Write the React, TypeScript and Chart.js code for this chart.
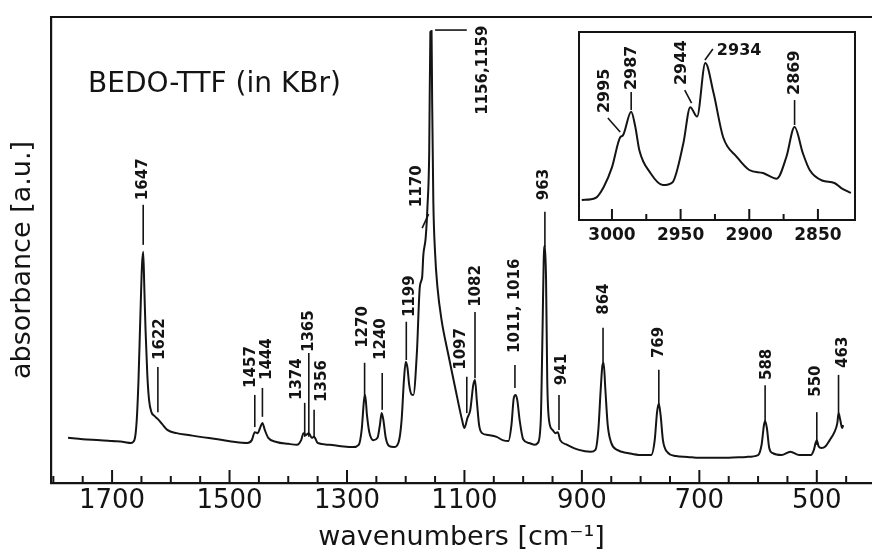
import React, { useEffect, useRef } from "react";
import { Chart, registerables } from "chart.js";

Chart.register(...registerables);

// ---------- main spectrum (wavenumber cm-1, absorbance a.u.) ----------
const mainWavenumbers = [
  1775, 1750, 1720, 1700, 1680, 1668, 1662, 1658, 1655, 1652, 1649, 1647, 1645, 1643, 1640, 1637,
  1633, 1628, 1622, 1615, 1606, 1590, 1570, 1550, 1520, 1490, 1470, 1462, 1457, 1452, 1448, 1444,
  1440, 1434, 1420, 1400, 1385, 1378, 1374, 1370, 1365, 1360, 1356, 1350, 1330, 1310, 1290, 1280,
  1275, 1271, 1269, 1266, 1262, 1255, 1248, 1244, 1241, 1238, 1234, 1228, 1220, 1212, 1207, 1203,
  1200, 1197, 1194, 1190, 1187, 1181, 1176, 1172, 1170, 1166, 1163, 1160, 1158, 1156, 1155, 1153,
  1150, 1146, 1139, 1128, 1116, 1104, 1100, 1095, 1090, 1085, 1082, 1079, 1075, 1070, 1060, 1045,
  1035, 1025, 1020, 1016, 1013, 1010, 1006, 1000, 990, 980, 975, 970, 967, 965, 963, 961,
  959, 956, 950, 945, 941, 937, 925, 905, 885, 877, 872, 868, 865, 863, 860, 856,
  850, 840, 820, 800, 782, 776, 772, 769, 766, 762, 755, 740, 720, 700, 650, 620,
  600, 594, 590, 588, 585, 581, 575, 560, 545, 530, 510, 505, 502, 500, 497, 492,
  485, 478, 470, 465, 463, 460, 457, 455,
];
const mainAbsorbance = [
  9.7, 9.4, 9.2, 9.0, 8.8, 8.6, 9.2, 13.5, 22.1, 35.0, 46.8, 49.6, 41.4, 32.8, 23.2, 17.8,
  15.2, 14.4, 13.7, 12.7, 11.4, 10.7, 10.3, 9.9, 9.4, 8.8, 8.6, 9.2, 10.9, 10.7, 11.8, 12.9,
  11.4, 9.7, 8.8, 8.4, 8.2, 9.2, 10.7, 10.3, 10.7, 9.7, 9.9, 8.6, 8.2, 7.9, 7.7, 8.2,
  11.4, 17.8, 18.9, 14.6, 10.9, 9.2, 9.7, 12.4, 15.0, 13.5, 9.7, 7.9, 7.7, 8.8, 13.5, 22.1,
  26.0, 24.7, 21.0, 19.0, 18.9, 27.9, 42.1, 44.2, 48.9, 52.6, 59.2, 70.8, 96.8, 97.0, 82.2, 60.7,
  49.4, 42.1, 35.0, 27.9, 20.6, 13.5, 11.8, 13.9, 15.7, 21.0, 22.1, 17.8, 12.4, 10.7, 10.3, 9.9,
  9.2, 9.0, 12.4, 18.2, 18.9, 17.8, 13.5, 9.4, 8.6, 8.2, 8.6, 13.5, 32.8, 47.9, 50.9, 43.6,
  22.1, 13.5, 11.4, 10.7, 10.9, 9.2, 8.2, 7.1, 6.7, 7.1, 11.4, 20.0, 25.3, 25.8, 20.0, 12.4,
  8.6, 7.1, 6.4, 6.0, 6.0, 9.2, 15.2, 17.0, 14.6, 9.2, 6.7, 5.8, 5.6, 5.4, 5.4, 5.6,
  6.0, 8.2, 12.4, 13.3, 11.8, 7.5, 6.4, 6.0, 6.7, 6.0, 6.0, 7.1, 8.6, 9.2, 7.9, 7.5,
  7.9, 9.2, 10.9, 12.9, 15.0, 13.5, 11.8, 12.4,
];
const mainTickLabels = [1700, 1500, 1300, 1100, 900, 700, 500];
const mainMinorTicks = [
  1800, 1750, 1650, 1600, 1550, 1450, 1400, 1350, 1250, 1200, 1150, 1050, 1000, 950,
  850, 800, 750, 650, 600, 550, 450,
];

// peak labels: text, text x, text bottom, leader x1, y1, x2, y2 (data units)
const mainPeakLabels: [string, number, number, number, number, number, number][] = [
  ["1647", 1648, 60.7, 1647, 59.7, 1647, 51.1],
  ["1622", 1618, 26.4, 1622, 24.9, 1622, 15.2],
  ["1457", 1463, 20.4, 1457, 18.9, 1457, 12.0],
  ["1444", 1436, 22.1, 1444, 20.4, 1444, 14.2],
  ["1374", 1385, 17.8, 1372, 17.2, 1372, 9.9],
  ["1365", 1365, 28.1, 1365, 27.9, 1365, 9.9],
  ["1356", 1343, 17.4, 1356, 15.7, 1356, 9.7],
  ["1270", 1273, 29.0, 1270, 25.8, 1270, 18.2],
  ["1240", 1242, 26.4, 1240, 23.6, 1240, 15.7],
  ["1199", 1193, 35.6, 1199, 34.6, 1199, 26.4],
  ["1170", 1181, 59.2, 1172, 54.7, 1161, 57.7],
  ["1156,1159", 1069, 79.0, 1150, 97.2, 1096, 97.2],
  ["1097", 1106, 24.3, 1096, 22.8, 1096, 15.0],
  ["1082", 1080, 37.8, 1082, 36.7, 1082, 22.5],
  ["1011, 1016", 1014, 27.9, 1014, 25.3, 1014, 20.4],
  ["963", 965, 60.7, 963, 58.2, 963, 50.6],
  ["941", 934, 21.0, 939, 18.9, 939, 11.4],
  ["864", 863, 36.1, 864, 33.3, 864, 25.8],
  ["769", 769, 26.8, 769, 24.3, 769, 16.3],
  ["588", 585, 22.1, 588, 21.0, 588, 13.1],
  ["550", 502, 18.5, 500, 15.2, 500, 8.2],
  ["463", 456, 24.7, 463, 23.2, 463, 15.0],
];

// ---------- inset (C-H stretching region) ----------
const insetWavenumbers = [
  3022, 3012, 3006, 3000, 2994, 2992, 2986, 2983, 2980, 2972, 2963, 2956, 2948, 2943, 2938,
  2932, 2926, 2919, 2909, 2900, 2890, 2880, 2873, 2867, 2861, 2856, 2847, 2838, 2833, 2826,
];
const insetAbsorbance = [
  10.6, 11.7, 17.6, 28, 44, 45, 57.6, 49.6, 37, 25, 18.6, 20, 40.8, 60, 55,
  83.5, 67.5, 44, 33.5, 26.6, 25, 22, 33.5, 49.5, 35.6, 26.6, 21, 19.7, 17, 14.4,
];
const insetTickLabels = [3000, 2950, 2900, 2850];
const insetMinorTicks = [2975, 2925, 2875];
const insetPeakLabels: [string, number, number, number, number, number, number, boolean][] = [
  ["2995", 3005, 56.9, 3003, 54.3, 2994, 46.8, false],
  ["2987", 2985.5, 69.1, 2986, 68.1, 2986, 58.5, false],
  ["2944", 2949, 71.8, 2947, 69.1, 2942, 62.2, false],
  ["2934", 2923.6, 87.8, 2932.3, 85.1, 2926.5, 91, true],
  ["2869", 2867, 66.5, 2867, 63.8, 2867, 50.5, false],
];

const chartTitle = "BEDO-TTF (in KBr)";
const xTitle = "wavenumbers [cm\u207B\u00B9]";
const yTitle = "absorbance [a.u.]";

const INK = "#141414";
const FONT = '"DejaVu Sans", sans-serif';

const mainDecor = {
  id: "mainDecor",
  afterDatasetsDraw(chart: any) {
    const { ctx, chartArea: a, scales } = chart;
    const x = scales.x;
    const y = scales.y;
    ctx.save();
    ctx.strokeStyle = INK;
    ctx.fillStyle = INK;
    ctx.lineWidth = 2.2;
    ctx.beginPath();
    ctx.moveTo(a.left - 1, a.top);
    ctx.lineTo(a.right, a.top);
    ctx.stroke();
    // inward ticks
    ctx.lineWidth = 2;
    const tickAt = (v: number, len: number) => {
      const px = x.getPixelForValue(v);
      ctx.beginPath();
      ctx.moveTo(px, a.bottom);
      ctx.lineTo(px, a.bottom - len);
      ctx.stroke();
    };
    mainTickLabels.forEach((v) => tickAt(v, 13));
    mainMinorTicks.forEach((v) => tickAt(v, 7));
    // peak labels
    ctx.lineWidth = 1.6;
    ctx.font = `bold 15px ${FONT}`;
    for (const [text, tx, ty, x1, y1, x2, y2] of mainPeakLabels) {
      ctx.beginPath();
      ctx.moveTo(x.getPixelForValue(x1), y.getPixelForValue(y1));
      ctx.lineTo(x.getPixelForValue(x2), y.getPixelForValue(y2));
      ctx.stroke();
      ctx.save();
      ctx.translate(x.getPixelForValue(tx), y.getPixelForValue(ty));
      ctx.rotate(-Math.PI / 2);
      ctx.textAlign = "left";
      ctx.textBaseline = "middle";
      ctx.fillText(text, 0, 0);
      ctx.restore();
    }
    // chart title inside the plot
    ctx.font = `28px ${FONT}`;
    ctx.textAlign = "left";
    ctx.textBaseline = "alphabetic";
    ctx.fillText(chartTitle, a.left + 37, a.top + 75);
    // y axis title
    ctx.save();
    ctx.font = `27px ${FONT}`;
    ctx.translate(a.left - 28, (a.top + a.bottom) / 2 + 10);
    ctx.rotate(-Math.PI / 2);
    ctx.textAlign = "center";
    ctx.textBaseline = "middle";
    ctx.fillText(yTitle, 0, 0);
    ctx.restore();
    ctx.restore();
  },
};

const insetDecor = {
  id: "insetDecor",
  afterDatasetsDraw(chart: any) {
    const { ctx, chartArea: a, scales } = chart;
    const x = scales.x;
    const y = scales.y;
    ctx.save();
    ctx.strokeStyle = INK;
    ctx.fillStyle = INK;
    ctx.lineWidth = 2;
    ctx.strokeRect(a.left, a.top, a.right - a.left, a.bottom - a.top);
    const tickAt = (v: number, len: number) => {
      const px = x.getPixelForValue(v);
      ctx.beginPath();
      ctx.moveTo(px, a.bottom);
      ctx.lineTo(px, a.bottom - len);
      ctx.stroke();
    };
    insetTickLabels.forEach((v) => tickAt(v, 11));
    insetMinorTicks.forEach((v) => tickAt(v, 6));
    ctx.lineWidth = 1.6;
    ctx.font = `bold 16px ${FONT}`;
    for (const [text, tx, ty, x1, y1, x2, y2, horiz] of insetPeakLabels) {
      ctx.beginPath();
      ctx.moveTo(x.getPixelForValue(x1), y.getPixelForValue(y1));
      ctx.lineTo(x.getPixelForValue(x2), y.getPixelForValue(y2));
      ctx.stroke();
      ctx.save();
      ctx.translate(x.getPixelForValue(tx), y.getPixelForValue(ty));
      if (horiz) {
        ctx.textAlign = "left";
        ctx.textBaseline = "alphabetic";
      } else {
        ctx.rotate(-Math.PI / 2);
        ctx.textAlign = "left";
        ctx.textBaseline = "middle";
      }
      ctx.fillText(text, 0, 0);
      ctx.restore();
    }
    ctx.restore();
  },
};

export default function App() {
  const mainRef = useRef<HTMLCanvasElement | null>(null);
  const insetRef = useRef<HTMLCanvasElement | null>(null);

  useEffect(() => {
    Chart.defaults.font.family = FONT;
    Chart.defaults.color = INK;

    const mainPoints = mainWavenumbers.map((w, i) => ({ x: w, y: mainAbsorbance[i] }));
    const insetPoints = insetWavenumbers.map((w, i) => ({ x: w, y: insetAbsorbance[i] }));

    const main = new Chart(mainRef.current as HTMLCanvasElement, {
      type: "line",
      data: {
        datasets: [
          {
            data: mainPoints,
            borderColor: INK,
            borderWidth: 2,
            pointRadius: 0,
            cubicInterpolationMode: "monotone",
            fill: false,
          },
        ],
      },
      options: {
        animation: false,
        responsive: false,
        devicePixelRatio: 1,
        layout: { padding: { top: 17, right: 0, left: 0, bottom: 0 } },
        plugins: { legend: { display: false }, tooltip: { enabled: false } },
        scales: {
          x: {
            type: "linear",
            reverse: true,
            min: 406,
            max: 1804,
            grid: { display: false, drawTicks: false },
            border: { display: true, color: INK, width: 2.2 },
            afterBuildTicks: (scale: any) => {
              scale.ticks = mainTickLabels.map((v) => ({ value: v }));
            },
            afterFit: (scale: any) => {
              scale.height = 71;
            },
            ticks: {
              autoSkip: false,
              maxRotation: 0,
              padding: 3,
              font: { size: 26, family: FONT },
              color: INK,
              callback: (v: any) => String(v),
            },
            title: {
              display: true,
              text: xTitle,
              font: { size: 27, family: FONT },
              color: INK,
              padding: { top: 0, bottom: 0 },
            },
          },
          y: {
            type: "linear",
            min: 0,
            max: 100,
            grid: { display: false, drawTicks: false },
            border: { display: true, color: INK, width: 2.2 },
            ticks: { display: false },
            afterFit: (scale: any) => {
              scale.width = 51;
            },
          },
        },
      },
      plugins: [mainDecor],
    });

    const inset = new Chart(insetRef.current as HTMLCanvasElement, {
      type: "line",
      data: {
        datasets: [
          {
            data: insetPoints,
            borderColor: INK,
            borderWidth: 2,
            pointRadius: 0,
            cubicInterpolationMode: "monotone",
            fill: false,
          },
        ],
      },
      options: {
        animation: false,
        responsive: false,
        devicePixelRatio: 1,
        layout: { padding: { top: 4, right: 10, left: 4, bottom: 0 } },
        plugins: { legend: { display: false }, tooltip: { enabled: false } },
        scales: {
          x: {
            type: "linear",
            reverse: true,
            min: 2823,
            max: 3024,
            grid: { display: false, drawTicks: false },
            border: { display: false },
            afterBuildTicks: (scale: any) => {
              scale.ticks = insetTickLabels.map((v) => ({ value: v }));
            },
            afterFit: (scale: any) => {
              scale.height = 30;
            },
            ticks: {
              autoSkip: false,
              maxRotation: 0,
              padding: 5,
              font: { size: 17, weight: "bold", family: FONT },
              color: INK,
              callback: (v: any) => String(v),
            },
          },
          y: { type: "linear", display: false, min: 0, max: 100 },
        },
      },
      plugins: [insetDecor],
    });

    return () => {
      main.destroy();
      inset.destroy();
    };
  }, []);

  return (
    <div style={{ position: "absolute", left: 0, top: 0, width: 872, height: 554, background: "#fff" }}>
      <canvas ref={mainRef} width={872} height={554} style={{ position: "absolute", left: 0, top: 0 }} />
      <canvas ref={insetRef} width={290} height={222} style={{ position: "absolute", left: 575, top: 28 }} />
    </div>
  );
}
